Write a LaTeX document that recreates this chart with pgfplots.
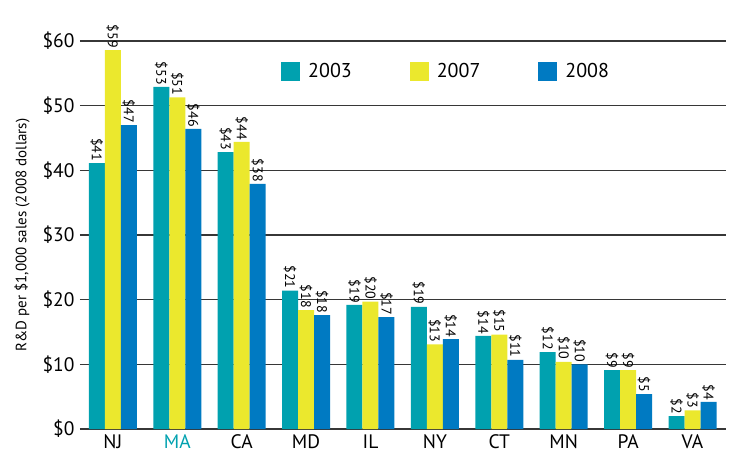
\documentclass[border=0pt]{standalone}
\usepackage{pgfplots}
\pgfplotsset{compat=1.18}
\usepackage{fontspec}
\setmainfont{PT Sans}
\definecolor{c03}{RGB}{0,161,175}
\definecolor{c07}{RGB}{235,232,45}
\definecolor{c08}{RGB}{0,122,194}
\definecolor{gridc}{RGB}{55,55,55}
\begin{document}
\begin{tikzpicture}
\begin{axis}[
  at={(0,0)}, anchor=south west,
  scale only axis, width=646pt, height=388pt,
  ybar=0pt, bar width=16pt,
  xmin=-0.51, xmax=9.52, ymin=0, ymax=60,
  xtick={0,...,9},
  xticklabels={NJ,\textcolor{c03}{MA},CA,MD,IL,NY,CT,MN,PA,VA},
  ytick={0,10,...,60},
  yticklabels={\$0,\$10,\$20,\$30,\$40,\$50,\$60},
  ymajorgrids, major grid style={gridc, line width=1.1pt},
  axis line style={draw=none}, major tick length=0pt,
  tick label style={font=\fontsize{19.5}{22}\selectfont},
  yticklabel style={xshift=-2pt},
  xticklabel style={yshift=-2pt},
  ylabel={R\&D per \$1,000 sales (2008 dollars)},
  ylabel style={font=\fontsize{15}{18}\selectfont, at={(axis description cs:-0.0898,0.5)}, anchor=center},
  clip=false,
  nodes near coords={\$\pgfmathprintnumber[fixed,precision=0,assume math mode=true]{\pgfplotspointmeta}},
  every node near coord/.append style={rotate=-90, anchor=east, font=\fontsize{14}{16}\selectfont, inner sep=2pt},
  legend style={draw=none, fill=none, at={(axis description cs:0.3065,0.9227)}, anchor=west,
    font=\fontsize{20}{22}\selectfont, /tikz/every even column/.append style={column sep=56pt}},
  legend columns=3,
]
\addplot[fill=c03, draw=none, legend image code/.code={\fill[c03] (0pt,-9.5pt) rectangle (19pt,9.5pt);}]
  coordinates {(0,41.1) (1,52.9) (2,42.8) (3,21.4) (4,19.2) (5,18.9) (6,14.4) (7,11.9) (8,9.1) (9,2.0)};
\addplot[fill=c07, draw=none, legend image code/.code={\fill[c07] (0pt,-9.5pt) rectangle (19pt,9.5pt);}]
  coordinates {(0,58.6) (1,51.3) (2,44.4) (3,18.4) (4,19.7) (5,13.1) (6,14.6) (7,10.4) (8,9.1) (9,2.9)};
\addplot[fill=c08, draw=none, legend image code/.code={\fill[c08] (0pt,-9.5pt) rectangle (19pt,9.5pt);}]
  coordinates {(0,47.0) (1,46.4) (2,37.9) (3,17.6) (4,17.3) (5,13.9) (6,10.7) (7,10.0) (8,5.4) (9,4.2)};
\legend{\hspace{6pt}2003,\hspace{6pt}2007,\hspace{6pt}2008}
\end{axis}
\pgfresetboundingbox
\path (-80pt,-27pt) rectangle (651pt,429pt);
\end{tikzpicture}
\end{document}
